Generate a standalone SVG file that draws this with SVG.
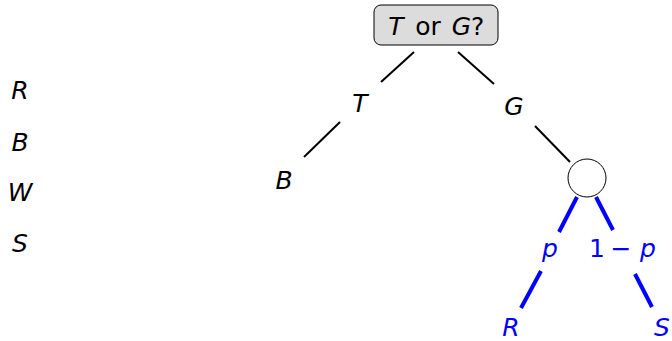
<svg xmlns="http://www.w3.org/2000/svg" width="672" height="341" viewBox="0 0 672 341">
<style>
text{font-family:"DejaVu Sans",sans-serif;font-size:25px;text-anchor:middle}
.v{font-style:italic}
.b{fill:#0000ff}
.e{stroke:#000;stroke-width:2;fill:none}
.eb{stroke:#0000ff;stroke-width:4;fill:none}
</style>
<rect width="672" height="341" fill="#fff"/>
<g id="legend">
<text class="v" x="20" y="99">R</text>
<text class="v" x="20" y="151">B</text>
<text class="v" x="20" y="201">W</text>
<text class="v" x="20" y="252">S</text>
</g>
<g id="root">
<rect x="374" y="5" width="124" height="40" rx="7" fill="#dcdcdc" stroke="#000" stroke-width="1"/>
<text class="v" x="396" y="35">T</text>
<text x="428" y="35">or</text>
<text x="468" y="35"><tspan class="v">G</tspan>?</text>
</g>
<g id="nT"><text class="v" x="360" y="112">T</text></g>
<g id="nG"><text class="v" x="514" y="115">G</text></g>
<g id="nB"><text class="v" x="284" y="189">B</text></g>
<g id="chance"><circle cx="587" cy="178" r="19" fill="#fff" stroke="#000" stroke-width="1"/></g>
<g id="lp"><text class="v b" x="550" y="257">p</text></g>
<g id="lq"><text class="b" x="597" y="257">1</text><text class="b" x="621" y="257">−</text><text class="v b" x="648" y="257">p</text></g>
<g id="nR"><text class="v b" x="511" y="336">R</text></g>
<g id="nS"><text class="v b" x="662" y="336">S</text></g>
<g id="connectors">
<line class="e" x1="414" y1="52" x2="381" y2="82"/>
<line class="e" x1="458" y1="52" x2="494" y2="84"/>
<line class="e" x1="340" y1="122" x2="304" y2="157"/>
<line class="e" x1="535" y1="126" x2="570" y2="162"/>
<line class="eb" x1="577" y1="197" x2="559" y2="232"/>
<line class="eb" x1="596" y1="197" x2="613" y2="230"/>
<line class="eb" x1="541" y1="271" x2="521" y2="308"/>
<line class="eb" x1="635" y1="274" x2="652" y2="307"/>
</g>
</svg>
